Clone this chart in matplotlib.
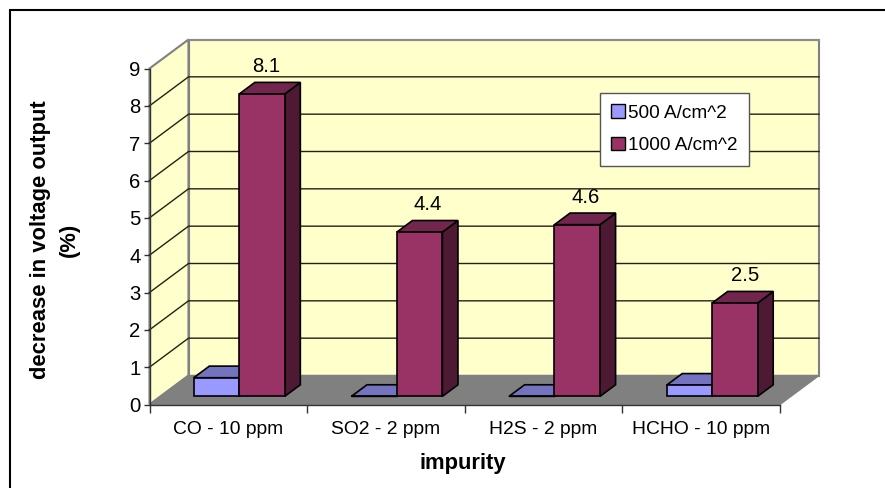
import matplotlib
matplotlib.use("Agg")
import matplotlib.pyplot as plt
from matplotlib.patches import Polygon, Patch, Rectangle

categories = ["CO - 10 ppm", "SO2 - 2 ppm", "H2S - 2 ppm", "HCHO - 10 ppm"]
series_500 = [0.5, 0.0, 0.0, 0.3]
series_1000 = [8.1, 4.4, 4.6, 2.5]
labels_1000 = ["8.1", "4.4", "4.6", "2.5"]
label_dx = [4, 8, 8, 10.5]
series_names = ["500 A/cm^2", "1000 A/cm^2"]
y_ticks = list(range(10))

W, H = 885, 488
plt.rcParams["font.family"] = ["Liberation Sans", "DejaVu Sans"]
fig = plt.figure(figsize=(W / 100, H / 100), dpi=100, facecolor="white")
L, R, T, B = 149.5, 780, 68.5, 404.5
ax = fig.add_axes([L / W, 1 - B / H, (R - L) / W, (B - T) / H])
ax.set_xlim(0, 4)
ax.set_ylim(0, 9)
ax.patch.set_visible(False)

PXX = (R - L) / 4
PXY = (B - T) / 9
WALL_DX, WALL_DY = 39 / PXX, 29 / PXY
PT = 72 / 100


def P(x, y, d=0.0):
    return (x + d * WALL_DX, y + d * WALL_DY)


def poly(pts, fc, ec="black", lw=1.0, z=2):
    ax.add_patch(Polygon(pts, closed=True, facecolor=fc, edgecolor=ec, linewidth=lw,
                         zorder=z, clip_on=False, joinstyle="miter"))


WALL = "#FFFFCC"
GRAY = "#808080"
# walls and floor
poly([P(0, 0), P(0, 9), P(0, 9, 1), P(0, 0, 1)], WALL, GRAY, 1.5, 1)
poly([P(0, 0, 1), P(0, 9, 1), P(4, 9, 1), P(4, 0, 1)], WALL, GRAY, 1.5, 1)
poly([P(0, 0), P(0, 0, 1), P(4, 0, 1), P(4, 0)], GRAY, GRAY, 1.0, 1.5)
for v in y_ticks[1:-1]:
    a, b, c = P(0, v), P(0, v, 1), P(4, v, 1)
    ax.plot([a[0], b[0], c[0]], [a[1], b[1], c[1]], color="#222211", lw=1.0, zorder=1.6,
            clip_on=False)
a, b, c = P(0, 9), P(0, 9, 1), P(4, 9, 1)
ax.plot([b[0], c[0]], [b[1], c[1]], color="#8c8c8c", lw=1.5, zorder=1.7, clip_on=False)

# bars
BAR_W = 45.5 / PXX
GAP = (1 - 2 * BAR_W) / 2
D0, D1 = 0.28, 0.68


def bar(x0, x1, v, front, top, side):
    poly([P(x1, 0, D0), P(x1, 0, D1), P(x1, v, D1), P(x1, v, D0)], side, "black", 1.2, 3)
    poly([P(x0, v, D0), P(x1, v, D0), P(x1, v, D1), P(x0, v, D1)], top, "black", 1.2, 3)
    poly([P(x0, 0, D0), P(x1, 0, D0), P(x1, v, D0), P(x0, v, D0)], front, "black", 1.2, 3)


C_500 = ("#9999FF", "#7373BF", "#4D4D80")
C_1000 = ("#993366", "#73264D", "#4D1933")
for i, (a5, a10, lab, dx) in enumerate(zip(series_500, series_1000, labels_1000, label_dx)):
    x0 = i + GAP
    bar(x0, x0 + BAR_W, a5, *C_500)
    bar(x0 + BAR_W, x0 + 2 * BAR_W, a10, *C_1000)
    tx = P(x0 + 1.5 * BAR_W, a10, D0)[0]
    ty = P(x0 + 1.5 * BAR_W, a10, D1)[1]
    ax.annotate(lab, (tx, ty), xytext=(dx * PT, 16 * PT),
                textcoords="offset points", ha="center", va="center", fontsize=14.6,
                color="black", zorder=5, annotation_clip=False)

# axes
for s in ("top", "right"):
    ax.spines[s].set_visible(False)
for s in ("left", "bottom"):
    ax.spines[s].set_color("#333333")
    ax.spines[s].set_linewidth(1.0)
    ax.spines[s].set_zorder(4)
ax.set_yticks(y_ticks)
ax.set_yticklabels([str(v) for v in y_ticks], fontsize=14.6)
ax.set_xticks(range(5))
ax.set_xticklabels([])
ax.tick_params(axis="y", length=5 * PT * 1.2, width=1, color="#333333", pad=2)
ax.tick_params(axis="x", length=5 * PT * 1.6, width=1, color="#333333")
for i, c in enumerate(categories):
    ax.annotate(c, (i + 0.5, 0), xytext=(0, -25 * PT), textcoords="offset points", ha="center",
                va="center", fontsize=13.9, annotation_clip=False)
fig.text(463 / W, 1 - 464 / H, "impurity", ha="center", va="center", fontsize=15.8,
         fontweight="bold")
fig.text(55 / W, 1 - 240 / H, "decrease in voltage output\n(%)", ha="center", va="center",
         rotation=90, fontsize=15.8, fontweight="bold", linespacing=1.45)

# legend
handles = [Patch(facecolor=C_500[0], edgecolor="black", label=series_names[0]),
           Patch(facecolor=C_1000[0], edgecolor="black", label=series_names[1])]
leg = fig.legend(handles=handles, loc="upper left",
                 bbox_to_anchor=(599.5 / W, 1 - 93 / H), bbox_transform=fig.transFigure,
                 fontsize=13.7, frameon=True, fancybox=False, framealpha=1,
                 edgecolor="#555555", facecolor="white", borderaxespad=0, borderpad=0.6,
                 handlelength=0.72, handleheight=0.72, handletextpad=0.2, labelspacing=0.78)
leg.set_zorder(6)
leg.get_frame().set_linewidth(1.0)

# outer frame, open on the right and bottom edges
fig.add_artist(Rectangle((9.5 / W, -0.02), 1.0, 1 - 10 / H + 0.02,
                         transform=fig.transFigure, fill=False, edgecolor="black", lw=1.5))

fig.savefig("out.png", dpi=100)
